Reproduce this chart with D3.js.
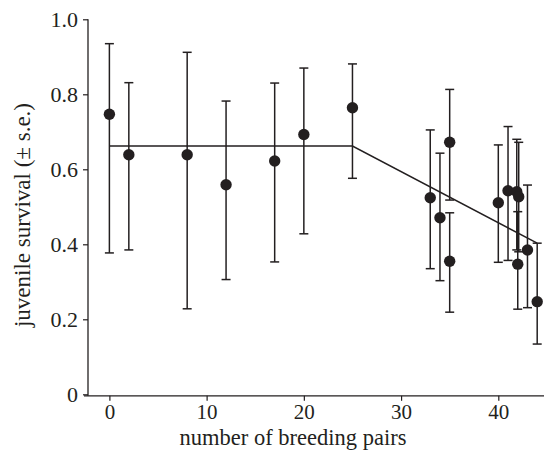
<!DOCTYPE html>
<html>
<head>
<meta charset="utf-8">
<script src="https://cdn.jsdelivr.net/npm/d3@7"></script>
<style>
  html, body { margin: 0; padding: 0; background: #fff; }
  svg text { font-family: "Liberation Serif", "DejaVu Serif", serif; fill: #231f20; }
</style>
</head>
<body>
<svg id="chart" width="544" height="457"></svg>
<script>
// breeding pairs (x), survival estimate, lower and upper s.e. limits
const pairs =   [0,     2,     8,     12,    17,    20,    25,    33,    34,    35,    35,    40,    41,    41.9,  42.1,  42,    43,    44];
const survival =[0.747, 0.639, 0.639, 0.559, 0.622, 0.693, 0.764, 0.524, 0.471, 0.672, 0.355, 0.511, 0.543, 0.540, 0.527, 0.347, 0.385, 0.247];
const lower =   [0.377, 0.385, 0.228, 0.306, 0.353, 0.428, 0.576, 0.335, 0.303, 0.518, 0.219, 0.352, 0.357, 0.385, 0.380, 0.227, 0.231, 0.134];
const upper =   [0.935, 0.831, 0.912, 0.782, 0.830, 0.870, 0.881, 0.705, 0.643, 0.813, 0.484, 0.665, 0.714, 0.680, 0.672, 0.487, 0.558, 0.403];

// piecewise (threshold) fit
const fitX = [0, 25, 44];
const fitY = [0.662, 0.662, 0.403];

const xTicks = [0, 10, 20, 30, 40];
const yTicks = [0, 0.2, 0.4, 0.6, 0.8, 1.0];
const yTickLabels = ["0", "0.2", "0.4", "0.6", "0.8", "1.0"];
const xTitle = "number of breeding pairs";
const yTitle = "juvenile survival (± s.e.)";

const ink = "#231f20";
const svg = d3.select("#chart");
const mLeft = 88, mRight = 544, mTop = 19.3, mBottom = 394.3;

const x = d3.scaleLinear().domain([-2.2, 44.7]).range([mLeft, mRight]);
const y = d3.scaleLinear().domain([0, 1]).range([mBottom, mTop]);

const data = pairs.map((p, i) => ({x: p, y: survival[i], lo: lower[i], hi: upper[i]}));

// axes
const gx = svg.append("g").attr("transform", `translate(0,${mBottom + 1.5})`)
  .call(d3.axisBottom(x).tickValues(xTicks).tickSize(5).tickPadding(3).tickFormat(d3.format("d")));
gx.select(".domain").attr("stroke", ink).attr("stroke-width", 1.3).attr("d", `M${mLeft - 4},0H${mRight}`);
gx.selectAll(".tick line").attr("stroke", ink).attr("stroke-width", 1.2);
gx.selectAll(".tick text").attr("font-size", 21).attr("fill", ink)
  .attr("font-family", "Liberation Serif, serif");

const gy = svg.append("g").attr("transform", `translate(${mLeft},0)`)
  .call(d3.axisLeft(y).tickValues(yTicks).tickSize(5).tickPadding(5).tickFormat((d, i) => yTickLabels[i]));
gy.select(".domain").attr("stroke", ink).attr("stroke-width", 1.3).attr("d", `M0,${mTop}V${mBottom + 1.5}`);
gy.selectAll(".tick line").attr("stroke", ink).attr("stroke-width", 1.2);
gy.selectAll(".tick text").attr("font-size", 22).attr("fill", ink)
  .attr("font-family", "Liberation Serif, serif");

// axis titles
svg.append("text").attr("x", 293).attr("y", 445).attr("text-anchor", "middle")
  .attr("font-size", 22.5).text(xTitle);
svg.append("text").attr("transform", `translate(30,${215}) rotate(-90)`).attr("text-anchor", "middle")
  .attr("font-size", 23).text(yTitle);

// fitted line
const fit = fitX.map((v, i) => [v, fitY[i]]);
svg.append("path").attr("d", d3.line().x(d => x(d[0])).y(d => y(d[1]))(fit))
  .attr("fill", "none").attr("stroke", ink).attr("stroke-width", 1.5);

// error bars
const cap = 4.5;
const eb = svg.append("g").attr("stroke", ink).attr("stroke-width", 1.5);
data.forEach(d => {
  eb.append("line").attr("x1", x(d.x)).attr("x2", x(d.x)).attr("y1", y(d.lo)).attr("y2", y(d.hi));
  eb.append("line").attr("x1", x(d.x) - cap).attr("x2", x(d.x) + cap).attr("y1", y(d.lo)).attr("y2", y(d.lo));
  eb.append("line").attr("x1", x(d.x) - cap).attr("x2", x(d.x) + cap).attr("y1", y(d.hi)).attr("y2", y(d.hi));
});

// points
svg.append("g").selectAll("circle").data(data).join("circle")
  .attr("cx", d => x(d.x)).attr("cy", d => y(d.y)).attr("r", 5.7).attr("fill", ink);
</script>
</body>
</html>
